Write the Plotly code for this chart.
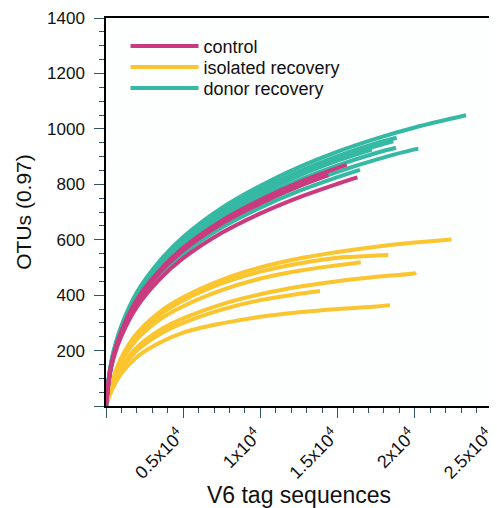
import plotly.graph_objects as go

# ---- data ----
# donor recovery curves
donor_1_x = [0, 250, 500, 1000, 2000, 3500, 5000, 7500, 10000, 12500, 15000, 17500, 20000, 23316]
donor_1_y = [0, 130, 200, 290, 410, 525, 610, 715, 795, 862, 918, 965, 1005, 1049]
donor_2_x = [0, 250, 500, 1000, 2000, 3500, 5000, 7500, 10000, 12500, 15000, 17500, 18827]
donor_2_y = [0, 128, 196, 285, 403, 516, 599, 702, 781, 847, 902, 948, 968]
donor_3_x = [0, 250, 500, 1000, 2000, 3500, 5000, 7500, 10000, 12500, 15000, 17500, 18610]
donor_3_y = [0, 126, 194, 282, 399, 510, 593, 695, 773, 838, 892, 938, 955]
donor_4_x = [0, 250, 500, 1000, 2000, 3500, 5000, 7500, 10000, 12500, 15000, 17210]
donor_4_y = [0, 125, 193, 280, 395, 506, 588, 689, 766, 831, 885, 925]
donor_5_x = [0, 250, 500, 1000, 2000, 3500, 5000, 7500, 10000, 12500, 15000, 17500, 18782]
donor_5_y = [0, 123, 189, 274, 388, 497, 577, 676, 752, 815, 868, 913, 932]
donor_6_x = [0, 250, 500, 1000, 2000, 3500, 5000, 7500, 10000, 12500, 15000, 17500, 20000, 20228]
donor_6_y = [0, 120, 184, 267, 378, 484, 562, 659, 732, 794, 845, 889, 926, 928]
donor_7_x = [0, 250, 500, 1000, 2000, 3500, 5000, 7500, 10000, 12500, 15000, 16450]
donor_7_y = [0, 117, 180, 261, 369, 473, 549, 644, 716, 776, 826, 852]

# control curves
control_1_x = [0, 250, 500, 1000, 2000, 3500, 5000, 7500, 10000, 12500, 15000, 15590]
control_1_y = [0, 122, 187, 271, 384, 491, 571, 669, 744, 807, 859, 870]
control_2_x = [0, 250, 500, 1000, 2000, 3500, 5000, 7500, 10000, 12500, 14400]
control_2_y = [0, 120, 184, 267, 377, 483, 561, 658, 731, 793, 833]
control_3_x = [0, 250, 500, 1000, 2000, 3500, 5000, 7500, 10000, 12500, 15000, 16280]
control_3_y = [0, 114, 175, 253, 358, 459, 533, 625, 695, 753, 802, 825]

# isolated recovery curves
isolated_1_x = [0, 250, 500, 1000, 2000, 3500, 5000, 7500, 10000, 12500, 15000, 17500, 20000, 22380]
isolated_1_y = [0, 60, 105, 175, 262, 340, 392, 455, 500, 532, 556, 575, 590, 601]
isolated_2_x = [0, 250, 500, 1000, 2000, 3500, 5000, 7500, 10000, 12500, 15000, 17500, 18280]
isolated_2_y = [0, 58, 102, 170, 255, 330, 381, 442, 485, 514, 535, 543, 545]
isolated_3_x = [0, 250, 500, 1000, 2000, 3500, 5000, 7500, 10000, 12500, 15000, 16500]
isolated_3_y = [0, 55, 97, 161, 241, 313, 360, 418, 460, 488, 508, 519]
isolated_4_x = [0, 250, 500, 1000, 2000, 3500, 5000, 7500, 10000, 12500, 15000, 17500, 20000, 20078]
isolated_4_y = [0, 49, 85, 141, 211, 274, 316, 367, 403, 430, 450, 466, 479, 481]
isolated_5_x = [0, 250, 500, 1000, 2000, 3500, 5000, 7500, 10000, 12500, 13860]
isolated_5_y = [0, 46, 80, 134, 200, 260, 300, 348, 382, 405, 415]
isolated_6_x = [0, 250, 500, 1000, 2000, 3500, 5000, 7500, 10000, 12500, 15000, 17500, 18390]
isolated_6_y = [0, 41, 71, 118, 177, 229, 265, 298, 322, 338, 350, 359, 364]

x_tick_vals = [0, 5000, 10000, 15000, 20000, 25000]
x_tick_text = ["", "0.5x10<sup>4</sup>", "1x10<sup>4</sup>", "1.5x10<sup>4</sup>",
               "2x10<sup>4</sup>", "2.5x10<sup>4</sup>"]
y_tick_vals = [0, 200, 400, 600, 800, 1000, 1200, 1400]
y_tick_text = ["", "200", "400", "600", "800", "1000", "1200", "1400"]

groups = [
    ("isolated recovery", "#FBC52F", "legend2",
     [(isolated_1_x, isolated_1_y), (isolated_2_x, isolated_2_y), (isolated_3_x, isolated_3_y),
      (isolated_4_x, isolated_4_y), (isolated_5_x, isolated_5_y), (isolated_6_x, isolated_6_y)]),
    ("donor recovery", "#35B9A4", "legend3",
     [(donor_1_x, donor_1_y), (donor_2_x, donor_2_y), (donor_3_x, donor_3_y),
      (donor_4_x, donor_4_y), (donor_5_x, donor_5_y), (donor_6_x, donor_6_y),
      (donor_7_x, donor_7_y)]),
    ("control", "#CB3A7E", "legend",
     [(control_1_x, control_1_y), (control_2_x, control_2_y), (control_3_x, control_3_y)]),
]

FONT = "Liberation Sans, Arial, sans-serif"
TICKC = "#2f5565"

fig = go.Figure()
for name, color, leg, curves in groups:
    for i, (xs, ys) in enumerate(curves):
        fig.add_trace(go.Scatter(
            x=xs, y=ys, mode="lines", name=name, legendgroup=name,
            showlegend=(i == 0), legend=leg,
            line=dict(color=color, width=4, shape="spline", smoothing=1.0),
        ))

def legend_box(ypos):
    return dict(x=0.0505, y=ypos, xanchor="left", yanchor="middle",
                bgcolor="rgba(0,0,0,0)", font=dict(size=18, color="#111111"),
                itemwidth=68, borderwidth=0)

fig.update_layout(
    width=489, height=500,
    margin=dict(l=98, r=5, t=10, b=102, autoexpand=False),
    paper_bgcolor="white", plot_bgcolor="#FDFEFE",
    font=dict(family=FONT, size=17, color="#111111"),
    showlegend=True,
    legend=legend_box(0.927),
    legend2=legend_box(0.873),
    legend3=legend_box(0.819),
)
fig.update_xaxes(
    range=[0, 25000], showgrid=False, zeroline=False, automargin=False,
    showline=True, linecolor="black", linewidth=1.5, mirror=True,
    ticks="outside", ticklen=10, tickwidth=1.3, tickcolor=TICKC,
    tickvals=x_tick_vals, ticktext=x_tick_text, tickangle=-45,
    ticklabeloverflow="allow", ticklabelshift=-4,
    tickfont=dict(size=18),
    minor=dict(dtick=1000, ticks="outside", ticklen=5, tickwidth=1, tickcolor=TICKC),
    title=dict(text="V6 tag sequences", font=dict(size=23), standoff=5),
)
fig.update_yaxes(
    range=[0, 1400], showgrid=False, zeroline=False, automargin=False,
    showline=True, linecolor="black", linewidth=1.5, mirror=True,
    ticks="outside", ticklen=10, tickwidth=1.3, tickcolor=TICKC,
    tickvals=y_tick_vals, ticktext=y_tick_text, ticklabelstandoff=6,
    tickfont=dict(size=17),
    minor=dict(dtick=50, ticks="outside", ticklen=5, tickwidth=1, tickcolor=TICKC),
    title=dict(text="OTUs (0.97)", font=dict(size=21), standoff=10),
)

fig.write_html("out.html")
